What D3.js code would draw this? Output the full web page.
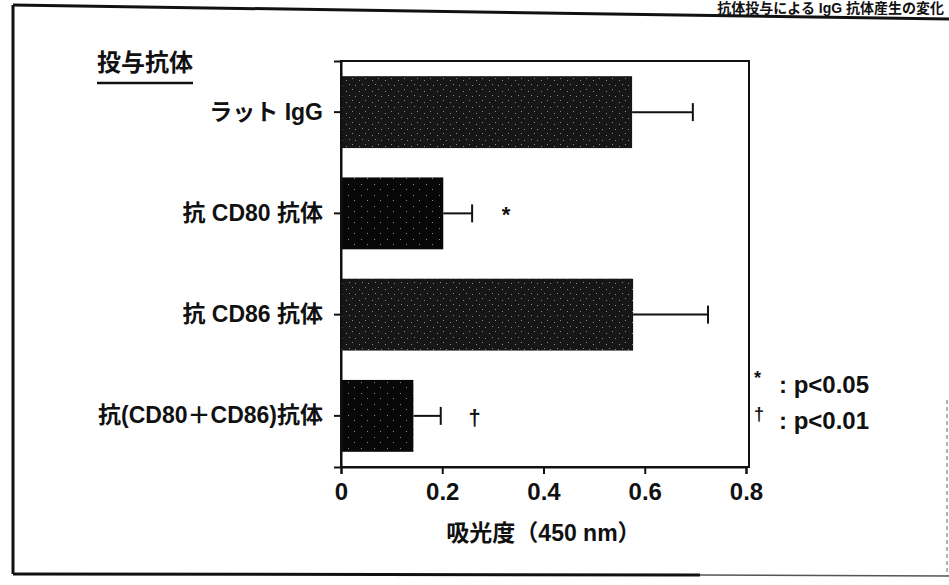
<!DOCTYPE html>
<html>
<head>
<meta charset="utf-8">
<script src="https://cdn.jsdelivr.net/npm/d3@7"></script>
<style>
  body { margin: 0; background: #fff; }
  svg text { font-family: "Liberation Sans", "Noto Sans CJK JP", sans-serif; fill: #111; font-weight: bold; }
</style>
</head>
<body>
<div class="vis1"></div>
<script>
// chart data
const CATEGORIES = ["ラット IgG", "抗 CD80 抗体", "抗 CD86 抗体", "抗(CD80＋CD86)抗体"];
const VALUES = [0.575, 0.202, 0.577, 0.143];
const ERRORS = [0.120, 0.057, 0.148, 0.054];
const SIG_MARKS = ["", "*", "", "†"];
const X_TICKS = [0, 0.2, 0.4, 0.6, 0.8];
const X_TICK_LABELS = ["0", "0.2", "0.4", "0.6", "0.8"];
const LEGEND = [["*", ": p<0.05"], ["†", ": p<0.01"]];

const FRAME_WIDTH = 949;
const FRAME_HEIGHT = 585;
const PLOT = {left: 341, right: 746, top: 61, bottom: 467};

const FRAME = d3.select('.vis1')
    .append('svg')
        .attr('width', FRAME_WIDTH)
        .attr('height', FRAME_HEIGHT);

// speckled fills like the scanned bars
const defs = FRAME.append('defs');
function speckle(id, base, dots) {
    const p = defs.append('pattern')
        .attr('id', id)
        .attr('patternUnits', 'userSpaceOnUse')
        .attr('width', 13).attr('height', 11);
    p.append('rect').attr('width', 13).attr('height', 11).attr('fill', base);
    dots.forEach(d => {
        p.append('rect').attr('x', d[0]).attr('y', d[1])
            .attr('width', 1).attr('height', 1).attr('fill', '#8a8a8a');
    });
}
speckle('dense', '#161616', [[1, 1], [8, 3], [11, 7], [4, 8]]);
speckle('sparse', '#080808', [[3, 2], [10, 8]]);
const FILLS = ['url(#dense)', 'url(#sparse)', 'url(#dense)', 'url(#sparse)'];

// outer scan frame
const page = FRAME.append('g').attr('fill', 'none').attr('stroke', '#111');
page.append('path').attr('d', 'M13,5 L949,19').attr('stroke-width', 3);
page.append('path').attr('d', 'M13,5 L13,574').attr('stroke-width', 3);
page.append('path').attr('d', 'M13,574 L700,575').attr('stroke-width', 3);
page.append('path').attr('d', 'M700,575 L949,576').attr('stroke-width', 1.5).attr('stroke', '#555');
page.append('path').attr('d', 'M947,400 L947,576').attr('stroke-width', 1)
    .attr('stroke-dasharray', '4,3').attr('stroke', '#666');

// title at top right (cut by the scan in the original)
FRAME.append('text')
    .attr('x', 944).attr('y', 13)
    .attr('text-anchor', 'end')
    .attr('font-size', '14px')
    .attr('font-weight', 'normal')
    .text('抗体投与による IgG 抗体産生の変化');

// scales
const X_SCALE = d3.scaleLinear()
    .domain([0, 0.8])
    .range([PLOT.left, PLOT.right]);

const Y_SCALE = d3.scaleBand()
    .domain(CATEGORIES)
    .range([PLOT.top, PLOT.bottom])
    .paddingInner(0.29)
    .paddingOuter(0.15);

const data = CATEGORIES.map((c, i) => ({cat: c, val: VALUES[i], err: ERRORS[i], sig: SIG_MARKS[i], fill: FILLS[i]}));

// plot box
FRAME.append('rect')
    .attr('x', PLOT.left).attr('y', PLOT.top)
    .attr('width', PLOT.right - PLOT.left + 3)
    .attr('height', PLOT.bottom - PLOT.top)
    .attr('fill', 'none').attr('stroke', '#111').attr('stroke-width', 2);

// bars
FRAME.selectAll('.bar')
    .data(data)
    .enter().append('rect')
    .attr('class', 'bar')
    .attr('x', X_SCALE(0))
    .attr('y', d => Y_SCALE(d.cat))
    .attr('width', d => X_SCALE(d.val) - X_SCALE(0))
    .attr('height', Y_SCALE.bandwidth())
    .attr('fill', d => d.fill);

// error bars
const eb = FRAME.selectAll('.err')
    .data(data)
    .enter().append('g')
    .attr('class', 'err')
    .attr('stroke', '#111').attr('stroke-width', 2);
eb.append('line')
    .attr('x1', d => X_SCALE(d.val))
    .attr('x2', d => X_SCALE(d.val + d.err))
    .attr('y1', d => Y_SCALE(d.cat) + Y_SCALE.bandwidth() / 2)
    .attr('y2', d => Y_SCALE(d.cat) + Y_SCALE.bandwidth() / 2);
eb.append('line')
    .attr('x1', d => X_SCALE(d.val + d.err))
    .attr('x2', d => X_SCALE(d.val + d.err))
    .attr('y1', d => Y_SCALE(d.cat) + Y_SCALE.bandwidth() / 2 - 9)
    .attr('y2', d => Y_SCALE(d.cat) + Y_SCALE.bandwidth() / 2 + 9);

// significance marks
FRAME.selectAll('.sig')
    .data(data.filter(d => d.sig))
    .enter().append('text')
    .attr('class', 'sig')
    .attr('x', d => X_SCALE(d.val + d.err) + 34)
    .attr('y', d => Y_SCALE(d.cat) + Y_SCALE.bandwidth() / 2 + 9)
    .attr('text-anchor', 'middle')
    .attr('font-size', '22px')
    .text(d => d.sig);

// axes
const xAxis = FRAME.append('g')
    .attr('transform', 'translate(0,' + PLOT.bottom + ')')
    .call(d3.axisBottom(X_SCALE)
        .tickValues(X_TICKS)
        .tickFormat((d, i) => X_TICK_LABELS[i])
        .tickSize(7)
        .tickPadding(9))
    .attr('font-size', '24px');

const yAxis = FRAME.append('g')
    .attr('transform', 'translate(' + PLOT.left + ',0)')
    .call(d3.axisLeft(Y_SCALE).tickSize(7).tickPadding(11))
    .attr('font-size', '23px');

[xAxis, yAxis].forEach(a => {
    a.select('.domain').attr('stroke', '#111').attr('stroke-width', 2);
    a.selectAll('.tick line').attr('stroke', '#111').attr('stroke-width', 2);
    a.selectAll('text').attr('fill', '#111').attr('font-family', null);
});

// row header
FRAME.append('text')
    .attr('x', 97).attr('y', 71)
    .attr('font-size', '24px')
    .text('投与抗体');
FRAME.append('line')
    .attr('x1', 97).attr('x2', 193)
    .attr('y1', 83).attr('y2', 83)
    .attr('stroke', '#111').attr('stroke-width', 2.5);

// x title
FRAME.append('text')
    .attr('x', (PLOT.left + PLOT.right) / 2)
    .attr('y', 541)
    .attr('text-anchor', 'middle')
    .attr('font-size', '23px')
    .text('吸光度（450 nm）');

// legend
const leg = FRAME.selectAll('.leg')
    .data(LEGEND)
    .enter().append('text')
    .attr('class', 'leg')
    .attr('x', 754)
    .attr('y', (d, i) => 393 + i * 36)
    .attr('font-size', '24px');
leg.append('tspan')
    .attr('font-size', '18px')
    .attr('dy', -9)
    .text(d => d[0]);
leg.append('tspan')
    .attr('x', 779)
    .attr('dy', 9)
    .text(d => d[1]);
</script>
</body>
</html>
